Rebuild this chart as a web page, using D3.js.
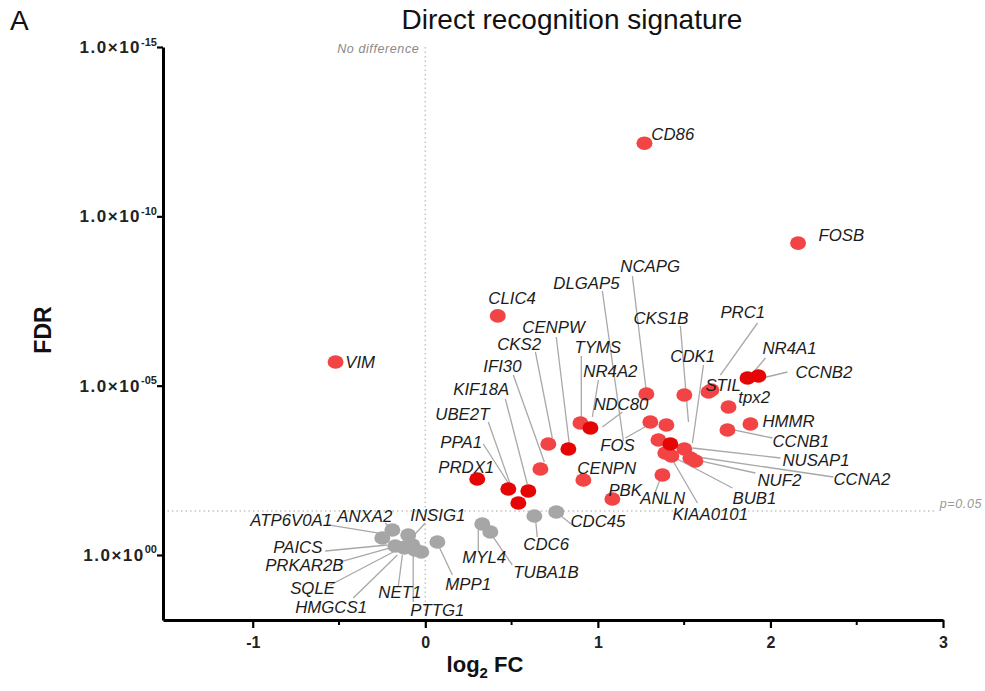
<!DOCTYPE html>
<html><head><meta charset="utf-8">
<script src="https://cdn.jsdelivr.net/npm/d3@7"></script>
<style>body{margin:0;background:#fff}svg{font-family:"Liberation Sans",Arial,sans-serif}</style>
</head><body><svg id="c" width="985" height="691"></svg>
<script>
// ---- data ----
const genes = ["CD86","FOSB","CLIC4","VIM","NR4A1","CCNB2","NCAPG","CKS1B","STIL","PRC1","tpx2","HMMR","CCNB1",
  "TYMS","NDC80","FOS","DLGAP5","NR4A2","CDK1","BUB1","KIAA0101","NUSAP1","NUF2","CCNA2","CENPW","CKS2","IFI30",
  "KIF18A","PPA1","UBE2T","PRDX1","CENPN","PBK","ANLN",
  "ANXA2","ATP6V0A1","INSIG1","PAICS","PRKAR2B","SQLE","HMGCS1","NET1","PTTG1","MPP1","MYL4","TUBA1B","CDC6","CDC45"];
const log2FC = [1.27,2.16,0.42,-0.52,1.867,1.930,1.281,1.501,1.641,1.658,1.757,1.884,1.751,
  0.899,0.957,1.304,1.397,1.351,1.420,1.391,1.426,1.501,1.536,1.565,0.829,0.713,0.667,
  0.597,0.481,0.539,0.301,0.916,1.084,1.374,
  -0.191,-0.249,-0.099,-0.174,-0.122,-0.075,-0.023,-0.110,-0.060,0.070,0.330,0.377,0.632,0.759];
const log10FDR = [-12.16,-9.21,-7.06,-5.70,-5.226,-5.285,-4.753,-4.724,-4.813,-4.872,-4.370,-3.868,-3.691,
  -3.897,-3.750,-3.927,-3.838,-3.395,-3.277,-3.012,-2.923,-3.130,-2.864,-2.775,-3.130,-3.277,-2.539,
  -1.890,-1.949,-1.535,-2.244,-2.214,-1.653,-2.362,
  -0.738,-0.502,-0.590,-0.266,-0.207,-0.295,-0.089,-0.250,-0.150,-0.384,-0.915,-0.679,-1.151,-1.270];
const group = ["up","up","up","up","upStrong","upStrong","up","up","up","up","up","up","up",
  "up","upStrong","up","up","up","upStrong","up","up","up","up","up","upStrong","up","up",
  "upStrong","upStrong","upStrong","upStrong","up","up","up",
  "ns","ns","ns","ns","ns","ns","ns","ns","ns","ns","ns","ns","ns","ns"];
const xTicks = [-1,0,1,2,3];
const xMinorTicks = [-0.5,0.5,1.5,2.5];
const yTickExps = [-15,-10,-5,0];
const yTickSup = ["-15","-10","-05","00"];
const pThreshold = 0.05;

// ---- label layout: [text, labelX, labelLog10Y, lineX1, lineY1, lineX2, lineY2] (data units) ----
const labels = [
  ["CD86",1.310,-12.253],["FOSB",2.278,-9.271],["CLIC4",0.365,-7.411],["VIM",-0.464,-5.521],
  ["STIL",1.623,-4.842],["tpx2",1.814,-4.488],["HMMR",1.954,-3.779],["PRDX1",0.075,-2.421],
  ["CENPN",0.881,-2.392],["PBK",1.061,-1.742],
  ["NCAPG",1.130,-8.355,1.200,-8.237,1.281,-4.812],
  ["DLGAP5",0.742,-7.854,1.026,-7.795,1.148,-3.366],
  ["CKS1B",1.206,-6.820,1.478,-6.761,1.525,-3.927],
  ["PRC1",1.710,-6.997,1.925,-6.850,1.710,-5.314],
  ["CENPW",0.562,-6.555,0.759,-6.436,0.835,-3.248],
  ["CKS2",0.417,-6.053,0.638,-5.994,0.736,-3.454],
  ["TYMS",0.864,-5.964,0.904,-5.875,0.904,-3.986],
  ["CDK1",1.420,-5.698,1.612,-5.610,1.548,-3.307],
  ["NR4A1",1.954,-5.934,1.971,-5.816,1.884,-5.285],
  ["IFI30",0.336,-5.403,0.510,-5.314,0.690,-2.746],
  ["NR4A2",0.916,-5.255,1.003,-5.167,0.968,-4.074],
  ["CCNB2",2.145,-5.226,2.099,-5.403,1.954,-5.226],
  ["KIF18A",0.162,-4.724,0.464,-4.606,0.591,-2.096],
  ["NDC80",0.974,-4.281,1.142,-4.222,1.026,-3.779],
  ["UBE2T",0.058,-3.986,0.365,-3.927,0.510,-1.831],
  ["PPA1",0.087,-3.159,0.336,-3.277,0.481,-2.126],
  ["FOS",1.014,-3.071,1.159,-3.454,1.293,-3.838],
  ["CCNB1",2.012,-3.189,2.012,-3.454,1.786,-3.691],
  ["NUSAP1",2.070,-2.628,2.058,-2.864,1.548,-3.159],
  ["CCNA2",2.365,-2.067,2.365,-2.303,1.577,-2.893],
  ["NUF2",1.925,-2.037,1.913,-2.421,1.565,-2.805],
  ["BUB1",1.780,-1.506,1.780,-1.978,1.438,-2.893],
  ["KIAA0101",1.432,-1.033,1.577,-1.535,1.409,-3.012],
  ["ANLN",1.246,-1.506,1.333,-1.860,1.374,-2.421],
  ["CDC45",0.841,-0.827,0.852,-0.886,0.765,-1.240],
  ["ATP6V0A1",-1.014,-0.856,-0.562,-0.886,-0.243,-0.620],
  ["ANXA2",-0.510,-0.974,-0.232,-0.945,-0.191,-0.738],
  ["INSIG1",-0.087,-1.004,0.000,-0.945,-0.075,-0.531],
  ["CDC6",0.568,-0.148,0.649,-0.531,0.638,-1.092],
  ["PAICS",-0.881,-0.059,-0.580,-0.118,-0.220,-0.295],
  ["MYL4",0.214,0.236,0.307,-0.089,0.307,-0.827],
  ["PRKAR2B",-0.928,0.472,-0.493,0.207,-0.203,-0.207],
  ["TUBA1B",0.510,0.679,0.504,0.295,0.377,-0.650],
  ["SQLE",-0.783,1.151,-0.551,0.886,-0.186,-0.089],
  ["MPP1",0.116,1.033,0.157,0.590,0.075,-0.295],
  ["NET1",-0.272,1.270,-0.157,0.945,-0.133,0.000],
  ["HMGCS1",-0.754,1.712,-0.417,1.270,-0.162,0.000],
  ["PTTG1",-0.087,1.801,-0.070,1.388,-0.070,0.000]
];

// ---- chart ----
const svg = d3.select('#c');
const x = d3.scaleLinear().domain([-1.52,3]).range([163,943]);
const y = d3.scaleLog().domain([Math.pow(10,1.92),1e-15]).range([620,47]);
const color = d3.scaleOrdinal().domain(["up","upStrong","ns"]).range(["#f24444","#e60505","#a6a6a6"]);
const Y = e => y(Math.pow(10,e));

svg.append('text').attr('x',10).attr('y',30).attr('font-size',28).attr('fill','#111').text('A');
svg.append('text').attr('x',572).attr('y',29).attr('text-anchor','middle').attr('font-size',28).attr('fill','#111')
  .text('Direct recognition signature');

// reference lines
svg.append('line').attr('x1',x(0)).attr('x2',x(0)).attr('y1',y(1e-15)).attr('y2',y.range()[0])
  .attr('stroke','#c4c4c4').attr('stroke-width',1.5).attr('stroke-dasharray','1.5,3');
svg.append('line').attr('x1',x.range()[0]).attr('x2',x(2.95)).attr('y1',y(pThreshold)).attr('y2',y(pThreshold))
  .attr('stroke','#c4c4c4').attr('stroke-width',1.5).attr('stroke-dasharray','1.5,3');
svg.append('text').attr('x',x(0)-6).attr('y',y(1e-15)+6).attr('text-anchor','end')
  .attr('font-size',12.5).attr('font-style','italic').attr('fill','#8a8a8a').attr('letter-spacing',0.6).text('No difference');
svg.append('text').attr('x',982).attr('y',y(pThreshold)-3).attr('text-anchor','end')
  .attr('font-size',12.5).attr('font-style','italic').attr('fill','#9a9a9a').attr('letter-spacing',0.6).text('p=0.05');

// leader lines
svg.append('g').selectAll('line').data(labels.filter(d=>d.length>3)).join('line')
  .attr('x1',d=>x(d[3])).attr('y1',d=>Y(d[4])).attr('x2',d=>x(d[5])).attr('y2',d=>Y(d[6]))
  .attr('stroke','#a8a8a8').attr('stroke-width',1.3);

// points
const pts = genes.map((g,i)=>({g, fc:log2FC[i], q:Math.pow(10,log10FDR[i]), grp:group[i]}));
pts.sort((a,b)=> (a.grp==='upStrong') - (b.grp==='upStrong'));
svg.append('g').selectAll('ellipse').data(pts).join('ellipse')
  .attr('cx',d=>x(d.fc)).attr('cy',d=>y(d.q)).attr('rx',8).attr('ry',6.8)
  .attr('fill',d=>color(d.grp));

// gene labels
svg.append('g').selectAll('text').data(labels).join('text')
  .attr('x',d=>x(d[1])).attr('y',d=>Y(d[2]))
  .attr('font-size',16.8).attr('font-style','italic').attr('fill','#1c1c1c')
  .text(d=>d[0]);

// axes
const xAxis = svg.append('g').attr('transform','translate(0,620)')
  .call(d3.axisBottom(x).tickValues(xTicks).tickSize(8).tickSizeOuter(0).tickFormat(d=>String(d)));
xAxis.select('.domain').attr('stroke','#000').attr('stroke-width',3);
xAxis.selectAll('.tick line').attr('stroke-width',2.2);
xAxis.selectAll('.tick text').attr('font-size',16).attr('font-weight','bold').attr('fill','#222')
  .attr('font-family','"Liberation Sans",Arial,sans-serif').attr('dy','1.05em');
svg.append('g').selectAll('line').data(xMinorTicks).join('line')
  .attr('x1',d=>x(d)).attr('x2',d=>x(d)).attr('y1',620).attr('y2',625).attr('stroke','#000').attr('stroke-width',2);

const yAxis = svg.append('g').attr('transform','translate(163,0)')
  .call(d3.axisLeft(y).tickValues(yTickExps.map(e=>Math.pow(10,e))).tickSize(6).tickSizeOuter(0).tickFormat(''));
yAxis.select('.domain').attr('stroke','#000').attr('stroke-width',3);
yAxis.selectAll('.tick line').attr('stroke-width',2.2);
const yl = svg.append('g').selectAll('text').data(yTickExps).join('text')
  .attr('x',157).attr('y',d=>y(Math.pow(10,d))+6).attr('text-anchor','end')
  .attr('font-size',17).attr('font-weight','bold').attr('fill','#222').attr('letter-spacing',1.5);
yl.append('tspan').text('1.0\u00d710');
yl.append('tspan').attr('dy',-7.5).attr('font-size',11).attr('letter-spacing',0).text((d,i)=>yTickSup[i]);

// axis titles
svg.append('text').attr('transform','translate(51,330) rotate(-90)').attr('text-anchor','middle')
  .attr('font-size',23).attr('font-weight','bold').attr('fill','#111').text('FDR');
const xt = svg.append('text').attr('x',485).attr('y',672).attr('text-anchor','middle')
  .attr('font-size',22).attr('font-weight','bold').attr('fill','#111');
xt.append('tspan').text('log');
xt.append('tspan').attr('dy',6).attr('font-size',15).text('2');
xt.append('tspan').attr('dy',-6).text(' FC');
</script></body></html>
